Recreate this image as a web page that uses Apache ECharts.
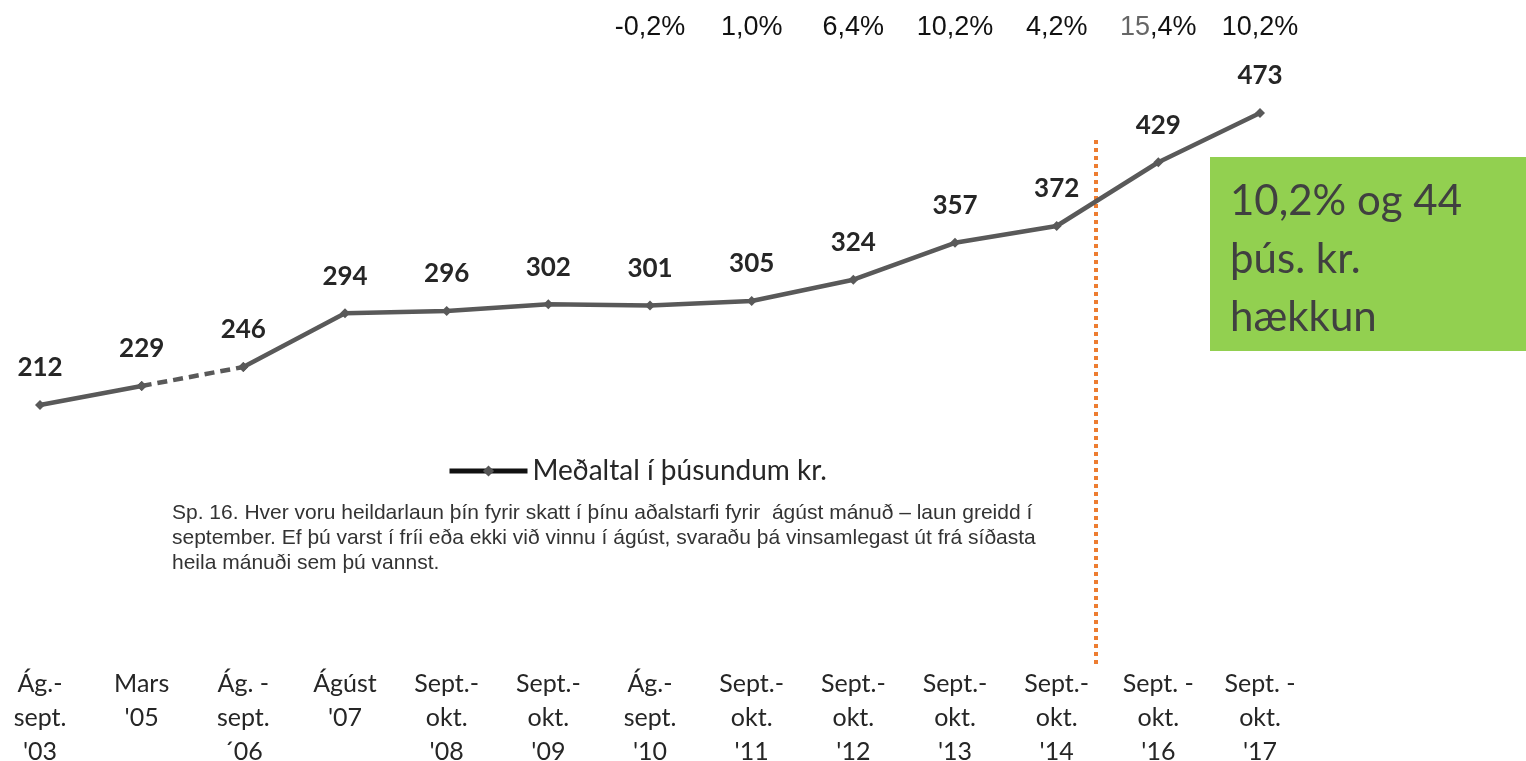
<!DOCTYPE html>
<html><head><meta charset="utf-8">
<script src="https://cdn.jsdelivr.net/npm/echarts@6/dist/echarts.min.js"></script>
<style>html,body{margin:0;padding:0;background:#fff}#c{width:1526px;height:761px}</style>
</head><body><div id="c"></div>
<script>
const categories = ["Ág.-\nsept.\n'03", "Mars\n'05", "Ág. -\nsept.\n´06", "Ágúst\n'07", "Sept.-\nokt.\n'08", "Sept.-\nokt.\n'09", "Ág.-\nsept.\n'10", "Sept.-\nokt.\n'11", "Sept.-\nokt.\n'12", "Sept.-\nokt.\n'13", "Sept.-\nokt.\n'14", "Sept. -\nokt.\n'16", "Sept. -\nokt.\n'17"];
const values = [212, 229, 246, 294, 296, 302, 301, 305, 324, 357, 372, 429, 473];
const pctLabels = ["", "", "", "", "", "", "-0,2%", "1,0%", "6,4%", "10,2%", "4,2%", "15,4%", "10,2%"];
const dashedFrom = 1, dashedTo = 2;
const seriesName = "Meðaltal í þúsundum kr.";
const caption = "Sp. 16. Hver voru heildarlaun þín fyrir skatt í þínu aðalstarfi fyrir  ágúst mánuð – laun greidd í\nseptember. Ef þú varst í fríi eða ekki við vinnu í ágúst, svaraðu þá vinsamlegast út frá síðasta\nheila mánuði sem þú vannst.";
const boxText = "10,2% og 44\nþús. kr.\nhækkun";

const lineColor = '#595959';
const solidA = values.map((v, i) => i <= dashedFrom ? v : null);
const solidB = values.map((v, i) => i >= dashedTo ? v : null);
const dashed = values.map((v, i) => (i >= dashedFrom && i <= dashedTo) ? v : null);

const chart = echarts.init(document.getElementById('c'));
const common = {
  name: seriesName, type: 'line', symbol: 'diamond', symbolSize: 10,
  itemStyle: { color: lineColor }, connectNulls: false, z: 3,
};
const labelCfg = { show: true, position: 'top', distance: 19, fontFamily: 'Lato', fontSize: 26, fontWeight: 'bold', color: '#262626' };
chart.setOption({
  animation: false,
  grid: { left: 40, right: 266, top: 82.8, bottom: 118.8, outerBoundsMode: 'none', containLabel: false },
  legend: {
    data: [seriesName], left: 442, top: 452, itemWidth: 78, itemHeight: 14,
    textStyle: { fontFamily: 'Lato', fontSize: 28, color: '#262626' },
    lineStyle: { color: '#111', width: 5 }, itemStyle: { color: '#555' }
  },
  xAxis: [{
    type: 'category', data: categories, boundaryGap: false,
    axisLine: { show: false }, axisTick: { show: false },
    axisLabel: { interval: 0, margin: 25, fontFamily: 'Lato', fontSize: 25, lineHeight: 34, color: '#262626', verticalAlign: 'top' }
  }, {
    type: 'category', data: pctLabels, boundaryGap: false, position: 'top',
    axisLine: { show: false }, axisTick: { show: false },
    axisLabel: {
      interval: 0, margin: 41, fontFamily: 'Liberation Sans', fontSize: 27, lineHeight: 28, color: '#111',
      formatter: v => v === '15,4%' ? '{g|15}{b|,4%}' : v,
      rich: { g: { color: '#666', fontFamily: 'Liberation Sans', fontSize: 27 }, b: { color: '#111', fontFamily: 'Liberation Sans', fontSize: 27 } }
    }
  }],
  yAxis: { type: 'value', min: 0, max: 500, show: false, splitLine: { show: false } },
  series: [
    Object.assign({}, common, { data: solidA, lineStyle: { color: lineColor, width: 4.5 }, label: labelCfg }),
    Object.assign({}, common, { data: dashed, lineStyle: { color: lineColor, width: 4.5, type: [10, 6] }, label: { show: false } }),
    Object.assign({}, common, { data: solidB, lineStyle: { color: lineColor, width: 4.5 }, label: labelCfg })
  ],
  graphic: [
    { type: 'line', shape: { x1: 1096, y1: 140, x2: 1096, y2: 666 }, style: { stroke: '#ED7D31', lineWidth: 4, lineDash: [4, 4] }, z: 1 },
    { type: 'rect', shape: { x: 1210, y: 157, width: 316, height: 194 }, style: { fill: '#92D050' }, z: 5 },
    { type: 'text', left: 1230, top: 172, z: 6, style: { text: boxText, fontFamily: 'Lato', fontSize: 42, lineHeight: 58, fill: '#404040' } },
    { type: 'text', left: 172, top: 501, z: 6, style: { text: caption, fontFamily: 'Liberation Sans', fontSize: 21, lineHeight: 25, fill: '#333' } }
  ]
});
</script></body></html>
